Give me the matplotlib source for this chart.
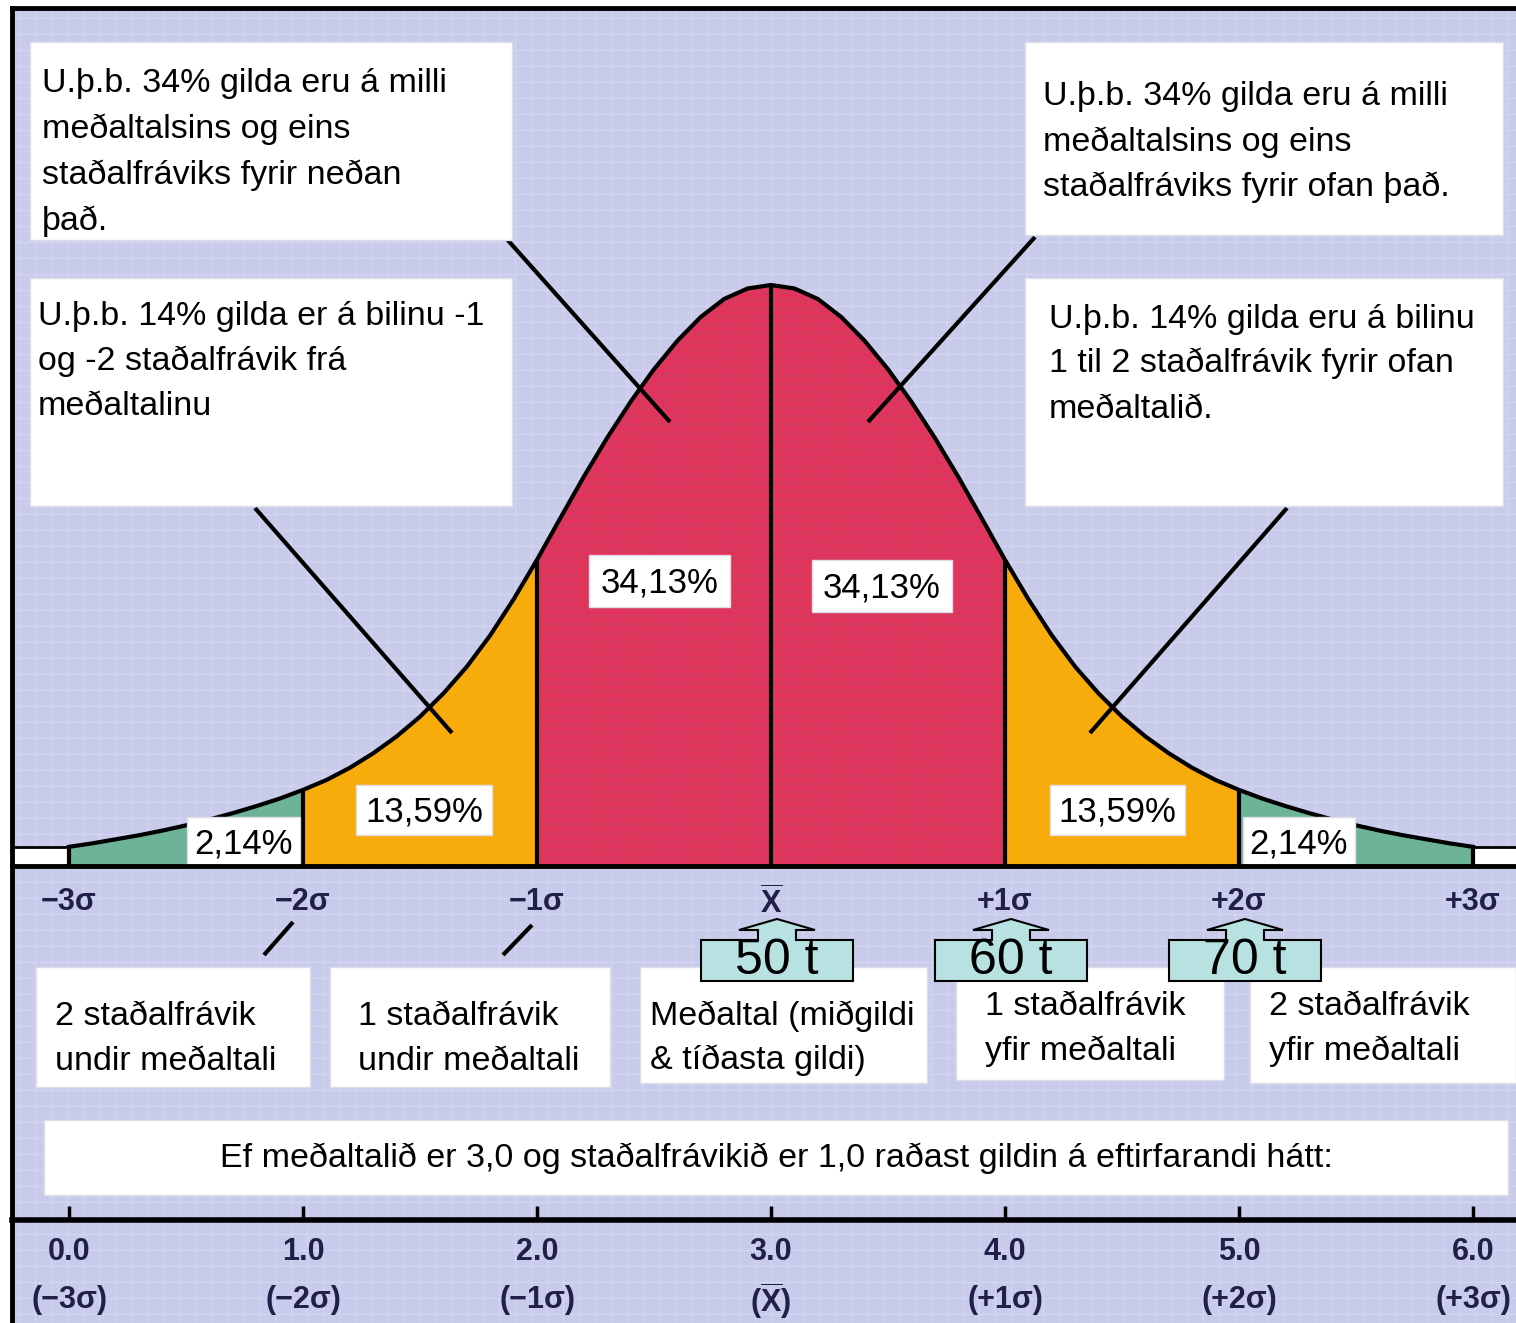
import numpy as np
import matplotlib.pyplot as plt
from matplotlib.patches import Rectangle, Polygon
from matplotlib.ticker import MultipleLocator

plt.rcParams['font.family'] = ['Liberation Sans', 'DejaVu Sans']
plt.rcParams['mathtext.fontset'] = 'custom'
plt.rcParams['mathtext.rm'] = 'Liberation Sans'
plt.rcParams['mathtext.bf'] = 'Liberation Sans:bold'
plt.rcParams['hatch.linewidth'] = 0.9

# bell curve: position in std. deviations, height relative to peak
z = [-3.0, -2.9, -2.8, -2.7, -2.6, -2.5, -2.4, -2.3, -2.2, -2.1,
     -2.0, -1.9, -1.8, -1.7, -1.6, -1.5, -1.4, -1.3, -1.2, -1.1,
     -1.0, -0.9, -0.8, -0.7, -0.6, -0.5, -0.4, -0.3, -0.2, -0.1,
     0.0, 0.1, 0.2, 0.3, 0.4, 0.5, 0.6, 0.7, 0.8, 0.9,
     1.0, 1.1, 1.2, 1.3, 1.4, 1.5, 1.6, 1.7, 1.8, 1.9,
     2.0, 2.1, 2.2, 2.3, 2.4, 2.5, 2.6, 2.7, 2.8, 2.9, 3.0]
h = [0.033, 0.039, 0.046, 0.053, 0.061, 0.070, 0.080, 0.091, 0.103, 0.116,
     0.131, 0.148, 0.169, 0.194, 0.223, 0.257, 0.297, 0.343, 0.397, 0.459,
     0.527, 0.599, 0.670, 0.737, 0.799, 0.855, 0.904, 0.945, 0.976, 0.994,
     1.000, 0.994, 0.976, 0.945, 0.904, 0.855, 0.799, 0.737, 0.670, 0.599,
     0.527, 0.459, 0.397, 0.343, 0.297, 0.257, 0.223, 0.194, 0.169, 0.148,
     0.131, 0.116, 0.103, 0.091, 0.080, 0.070, 0.061, 0.053, 0.046, 0.039, 0.033]

band_edges = [-3, -2, -1, 0, 1, 2, 3]
band_pct = ['2,14%', '13,59%', '34,13%', '34,13%', '13,59%', '2,14%']
band_colors = ['#6db398', '#f8ac0c', '#d63b5c', '#d63b5c', '#f8ac0c', '#6db398']

sigma_labels = ['\u22123\u03c3', '\u22122\u03c3', '\u22121\u03c3', r'$\overline{\mathbf{X}}$',
                '+1\u03c3', '+2\u03c3', '+3\u03c3']
mean = 3.0
sd = 1.0
ton_labels = ['50 t', '60 t', '70 t']
ton_at = [0, 1, 2]

z = np.array(z)
h = np.array(h)

# pixel layout of the original picture
W, H = 1516, 1323
SX, X0 = 234.0, 771.0
SY, Y0 = 581.0, 866.0
def dx(px):
    return (px - X0) / SX
def dy(py):
    return (Y0 - py) / SY

bg = '#c8ccea'
fig = plt.figure(figsize=(W / 100, H / 100), dpi=100, facecolor='white')
ax = fig.add_axes([12 / W, 0, 1 - 12 / W, 1 - 8 / H])
ax.set_facecolor(bg)
ax.set_xlim(dx(12), dx(W))
ax.set_ylim(dy(H), dy(8))
for s in ['right', 'bottom']:
    ax.spines[s].set_visible(False)
for s in ['left', 'top']:
    ax.spines[s].set_linewidth(3.5)
ax.set_xticks([])
ax.set_yticks([])
ax.xaxis.set_minor_locator(MultipleLocator(16 / SX))
ax.yaxis.set_minor_locator(MultipleLocator(16 / SY))
ax.tick_params(which='both', length=0, labelbottom=False, labelleft=False)
ax.grid(which='minor', color='#d4d8f2', lw=0.7)
ax.set_axisbelow(True)

# coloured bands under the curve
for i in range(len(band_edges) - 1):
    a, b = band_edges[i], band_edges[i + 1]
    m = (z >= a - 1e-9) & (z <= b + 1e-9)
    xs = np.r_[z[m][0], z[m], z[m][-1]]
    ys = np.r_[0, h[m], 0]
    if band_colors[i] == '#d63b5c':
        ax.fill(xs, ys, facecolor=band_colors[i], edgecolor='#ee2a60', hatch='++', lw=0, zorder=1)
    else:
        ax.fill(xs, ys, facecolor=band_colors[i], lw=0, zorder=1)

# beyond +-3 sd
xl, xr = ax.get_xlim()
ax.fill_between([xl, z[0]], 0, h[0], color='white', zorder=1)
ax.fill_between([z[-1], xr], 0, h[-1], color='white', zorder=1)
ax.plot([xl, z[0]], [h[0], h[0]], color='k', lw=2, zorder=3)
ax.plot([z[-1], xr], [h[-1], h[-1]], color='k', lw=2, zorder=3)

ax.plot(z, h, color='k', lw=3, zorder=3, solid_joinstyle='round')
edge_h = [h[np.argmin(np.abs(z - e))] for e in band_edges]
ax.vlines(band_edges, 0, edge_h, colors='k', lw=3, zorder=3)

# pointer lines
for (x0, y0, x1, y1) in [(505, 237, 670, 422), (1035, 237, 868, 422),
                         (255, 508, 452, 733), (1287, 508, 1090, 733),
                         (293, 922, 264, 955), (532, 925, 503, 955)]:
    ax.plot([dx(x0), dx(x1)], [dy(y0), dy(y1)], color='k', lw=3, zorder=4,
            solid_capstyle='butt')

def box(x0, y0, x1, y1):
    ax.add_patch(Rectangle((dx(x0), dy(y1)), dx(x1) - dx(x0), dy(y0) - dy(y1),
                           fc='white', ec='#dedee8', lw=1, zorder=5))

def lines(x, baselines, texts, size=24.5):
    for b, t in zip(baselines, texts):
        ax.text(dx(x), dy(b), t, fontsize=size, ha='left', va='baseline', zorder=6)

# explanation boxes
box(30, 42, 512, 240)
lines(42, [92, 138, 184, 230], ['U.þ.b. 34% gilda eru á milli', 'meðaltalsins og eins',
                                'staðalfráviks fyrir neðan', 'það.'])
box(1025, 42, 1503, 235)
lines(1043, [105, 151, 196], ['U.þ.b. 34% gilda eru á milli', 'meðaltalsins og eins',
                              'staðalfráviks fyrir ofan það.'])
box(30, 278, 512, 506)
lines(38, [325, 370, 415], ['U.þ.b. 14% gilda er á bilinu -1', 'og -2 staðalfrávik frá',
                            'meðaltalinu'])
box(1025, 278, 1503, 506)
lines(1049, [328, 372, 418], ['U.þ.b. 14% gilda eru á bilinu', '1 til 2 staðalfrávik fyrir ofan',
                              'meðaltalið.'])

box(36, 967, 310, 1087)
lines(55, [1025, 1070], ['2 staðalfrávik', 'undir meðaltali'])
box(330, 967, 610, 1087)
lines(358, [1025, 1070], ['1 staðalfrávik', 'undir meðaltali'])
box(640, 967, 927, 1083)
lines(650, [1025, 1069], ['Meðaltal (miðgildi', '& tíðasta gildi)'])
box(956, 967, 1224, 1080)
lines(985, [1015, 1060], ['1 staðalfrávik', 'yfir meðaltali'])
box(1250, 967, 1516, 1083)
lines(1269, [1015, 1060], ['2 staðalfrávik', 'yfir meðaltali'])

box(44, 1120, 1508, 1195)
ax.text(dx(776), dy(1158), 'Ef meðaltalið er %s og staðalfrávikið er %s raðast gildin á eftirfarandi hátt:'
        % (('%.1f' % mean).replace('.', ','), ('%.1f' % sd).replace('.', ',')),
        fontsize=24.5, ha='center', va='center', zorder=6)

# percentage labels
pct_boxes = [(187, 817, 300, 866), (356, 785, 492, 835), (589, 555, 730, 607),
             (812, 560, 952, 612), (1050, 785, 1185, 835), (1243, 817, 1355, 866)]
for lab, (x0, y0, x1, y1) in zip(band_pct, pct_boxes):
    box(x0, y0, x1, y1)
    ax.text(dx((x0 + x1) / 2), dy((y0 + y1) / 2 + 2), lab, fontsize=25, ha='center',
            va='center', zorder=6)

# tonnage callouts
for lab, pos in zip(ton_labels, ton_at):
    cx = X0 + pos * SX + 6
    pts = [(cx - 76, 981), (cx - 76, 940), (cx - 19, 940), (cx - 19, 930), (cx - 38, 930),
           (cx, 919), (cx + 38, 930), (cx + 19, 930), (cx + 19, 940), (cx + 76, 940),
           (cx + 76, 981)]
    ax.add_patch(Polygon([(dx(px), dy(py)) for px, py in pts], closed=True, fc='#b8e1e1',
                         ec='k', lw=1.5, zorder=7))
    ax.text(dx(cx), dy(961), lab, fontsize=36, ha='center', va='center', zorder=8)

# sigma axis along the baseline
def frac(py):
    y0, y1 = ax.get_ylim()
    return (dy(py) - y0) / (y1 - y0)

top = ax.secondary_xaxis(frac(866))
top.set_zorder(9)
top.spines['bottom'].set_linewidth(3.5)
top.set_xticks(band_edges, sigma_labels, fontsize=22, fontweight='bold', color='#202048')
top.tick_params(length=0, pad=15)

# value axis at the bottom
bot = ax.secondary_xaxis(frac(1220), functions=(lambda s: s * sd + mean,
                                                lambda v: (v - mean) / sd))
bot.set_zorder(9)
bot.spines['bottom'].set_linewidth(4)
vals = [mean + e * sd for e in band_edges]
sec_lab = ['(%s)' % s if not s.startswith('$') else r'$\mathbf{(\overline{X})}$'
           for s in sigma_labels]
bot.set_xticks(vals, ['%.1f\n%s' % (v, s) for v, s in zip(vals, sec_lab)], fontsize=22,
               fontweight='bold', color='#202048', linespacing=1.8)
bot.tick_params(direction='in', length=10, width=2.5, pad=12)
for lbl in bot.get_xticklabels():
    if '$' in lbl.get_text():
        lbl.set_linespacing(1.45)

fig.savefig('out.png', dpi=100, facecolor='white')
